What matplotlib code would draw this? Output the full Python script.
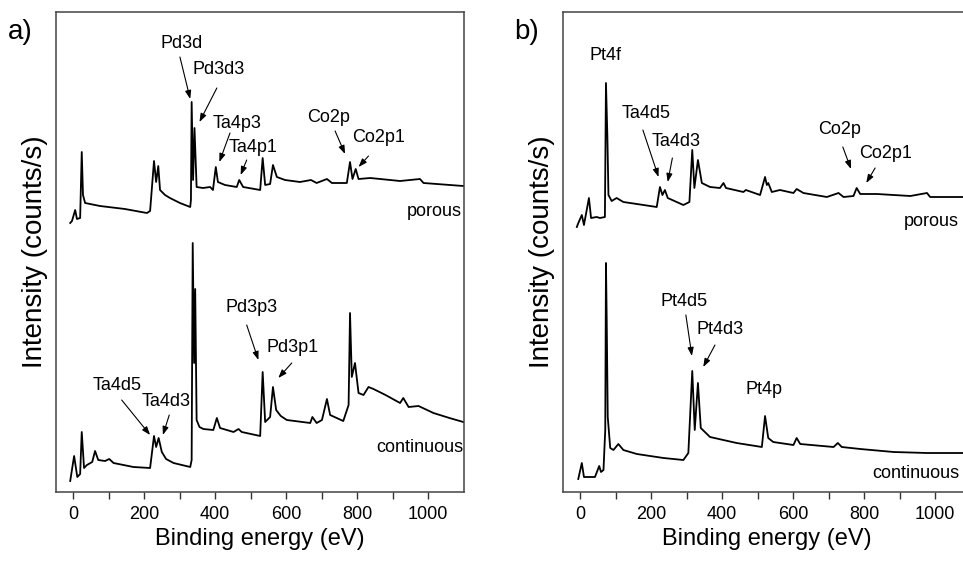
import matplotlib
matplotlib.use("Agg")
import matplotlib.pyplot as plt
from matplotlib.ticker import FuncFormatter

# ---------------- data (arbitrary intensity units) -------------
a_porous_ev = [-8, -3, 6, 11, 20, 24.5, 28, 34, 76, 146, 208, 217, 228, 234, 240, 245, 259, 273, 301,
               330, 332, 334, 338, 342, 348, 366, 386, 394, 402, 408, 428, 461, 468, 479, 527, 534,
               541, 555, 563, 574, 597, 639, 670, 686, 715, 729, 771, 780, 787, 796, 804, 837, 921,
               977, 987, 1099]
a_porous_int = [269, 271, 282, 273, 274, 340, 297, 289, 286, 283, 279, 281, 331, 310, 326, 302, 297, 294,
                289, 285, 292, 390, 312, 364, 305, 304, 305, 302, 325, 310, 307, 305, 312, 305, 302, 334,
                307, 308, 327, 315, 312, 310, 312, 309, 313, 309, 309, 330, 313, 323, 313, 314, 311, 313,
                309, 306]

a_cont_ev = [-8, 3, 12, 20, 24.5, 31, 39, 54, 62, 71, 90, 102, 114, 170, 217, 228, 234, 241, 250, 262,
             283, 330, 334, 337, 341, 344, 348, 356, 367, 395, 405, 414, 452, 466, 475, 527, 534, 541,
             555, 563, 572, 585, 602, 668, 674, 686, 701, 715, 724, 761, 776, 780, 785, 794, 804, 818,
             832, 846, 880, 921, 930, 945, 973, 1015, 1060, 1099]
a_cont_int = [11, 36, 15, 18, 60, 24, 27, 30, 41, 32, 31, 33, 29, 25, 24, 56, 45, 54, 40, 33,
              29, 25, 32, 249, 129, 203, 72, 65, 63, 62, 74, 64, 60, 63, 60, 56, 120, 70,
              75, 105, 82, 76, 72, 69, 75, 69, 72, 93, 77, 71, 87, 179, 115, 129, 99, 97,
              105, 103, 97, 89, 94, 85, 86, 79, 74, 70]

b_porous_ev = [-9, -6, 5, 11, 25, 31, 47, 56, 70, 73, 77, 80, 89, 103, 122, 160, 216, 225, 232, 239,
               247, 291, 308, 316, 322, 332, 343, 366, 394, 404, 411, 460, 467, 507, 521, 526, 530,
               540, 563, 601, 610, 629, 695, 728, 742, 770, 779, 789, 836, 930, 977, 986, 1073, 1101]
b_porous_int = [265, 268, 277, 267, 294, 274, 275, 274, 275, 409, 355, 297, 291, 294, 290, 288, 285, 305,
                297, 302, 294, 287, 290, 342, 304, 332, 309, 305, 304, 309, 304, 300, 302, 297, 315,
                307, 309, 300, 302, 299, 303, 299, 295, 299, 295, 296, 304, 298, 298, 296, 299, 295,
                295, 295]

b_cont_ev = [-5, 5, 11, 42, 54, 59, 66, 71, 73, 75, 78, 85, 94, 108, 122, 160, 235, 291, 305, 316, 323,
             332, 340, 366, 441, 512, 521, 530, 544, 601, 610, 620, 714, 726, 737, 789, 883, 977, 1101]
b_cont_int = [13, 29, 15, 15, 26, 20, 22, 62, 229, 175, 75, 44, 42, 48, 42, 38, 34, 32, 39, 121, 62,
              109, 64, 55, 49, 45, 76, 54, 50, 47, 54, 48, 45, 49, 45, 43, 40, 39, 39]

x_ticks = [0, 100, 200, 300, 400, 500, 600, 700, 800, 900, 1000]

# annotations: label, text position, arrow tail, arrow head (data units)
a_labels = ["Pd3d", "Pd3d3", "Ta4p3", "Ta4p1", "Co2p", "Co2p1", "Pd3p3", "Pd3p1", "Ta4d5", "Ta4d3"]
a_text_x = [306, 409, 461, 508, 719, 860, 503, 619, 123, 261]
a_text_y = [449, 422, 369, 344, 374, 355, 184, 145, 107, 90]
a_tail_x = [301, 405, 442, 489, 738, 832, 489, 616, 137, 271]
a_tail_y = [435, 404, 359, 332, 361, 336, 167, 129, 92, 77]
a_head_x = [330, 356, 412, 472, 766, 804, 522, 578, 217, 253]
a_head_y = [393, 370, 330, 317, 338, 325, 132, 114, 57, 57]

b_labels = ["Pt4f", "Ta4d5", "Ta4d3", "Co2p", "Co2p1", "Pt4d5", "Pt4d3", "Pt4p"]
b_text_x = [73, 186, 270, 730, 859, 293, 394, 519]
b_text_y = [436, 379, 350, 363, 338, 190, 163, 102]
b_tail_x = [None, 177, 260, 740, 831, 298, 380, None]
b_tail_y = [None, 362, 334, 345, 324, 177, 147, None]
b_head_x = [None, 221, 247, 763, 806, 315, 347, None]
b_head_y = [None, 315, 310, 323, 309, 136, 125, None]

# ---------------- figure ---------------------------------------------------------------
REG = ["Liberation Sans", "DejaVu Sans"]
plt.rcParams["font.family"] = REG

fig = plt.figure(figsize=(9.63, 5.66), dpi=100)
W, H = 963, 566
ax_w = (464 - 56) / W
ax_h = (492 - 12) / H
ax_b = (566 - 492) / H
axA = fig.add_axes([56 / W, ax_b, ax_w, ax_h])
axB = fig.add_axes([563 / W, ax_b, ax_w, ax_h])

line_kw = dict(color="black", lw=1.3)
axA.plot(a_porous_ev, a_porous_int, **line_kw)
axA.plot(a_cont_ev, a_cont_int, **line_kw)
axB.plot(b_porous_ev, b_porous_int, **line_kw)
axB.plot(b_cont_ev, b_cont_int, **line_kw)

def fmt(v, pos):
    iv = int(round(v))
    return str(iv) if iv % 200 == 0 else ""

for ax in (axA, axB):
    ax.set_xlim(-48, 1101)
    ax.set_ylim(0, 480)
    ax.set_xticks(x_ticks)
    ax.xaxis.set_major_formatter(FuncFormatter(fmt))
    ax.tick_params(axis="x", direction="out", length=5, width=1, labelsize=13, pad=5,
                   colors="#333333", labelcolor="black")
    ax.set_yticks([])
    for s in ax.spines.values():
        s.set_color("#444444")
        s.set_linewidth(1.1)
    ax.set_xlabel("Binding energy (eV)", fontsize=17, labelpad=4)
    ax.set_ylabel("Intensity (counts/s)", fontsize=20, labelpad=6)

arrow_kw = dict(arrowstyle="-|>,head_length=0.5,head_width=0.18", color="black", lw=0.8,
                shrinkA=0, shrinkB=0)

def annotate(ax, labels, tx, ty, fx, fy, hx, hy):
    for i, lab in enumerate(labels):
        ax.text(tx[i], ty[i], lab, fontsize=13, ha="center", va="center")
        if fx[i] is not None:
            ax.annotate("", xy=(hx[i], hy[i]), xytext=(fx[i], fy[i]), arrowprops=arrow_kw)

annotate(axA, a_labels, a_text_x, a_text_y, a_tail_x, a_tail_y, a_head_x, a_head_y)
annotate(axB, b_labels, b_text_x, b_text_y, b_tail_x, b_tail_y, b_head_x, b_head_y)

axA.text(1095, 281, "porous", fontsize=13, ha="right", va="center")
axA.text(1098, 44, "continuous", fontsize=13, ha="right", va="center")
axB.text(1068, 270, "porous", fontsize=13, ha="right", va="center")
axB.text(1068, 19, "continuous", fontsize=13, ha="right", va="center")

fig.text(20 / W, 1 - 31.7 / H, "a)", fontsize=20, ha="center", va="center")
fig.text(526.7 / W, 1 - 31.7 / H, "b)", fontsize=20, ha="center", va="center")

fig.savefig("out.png", dpi=100)
